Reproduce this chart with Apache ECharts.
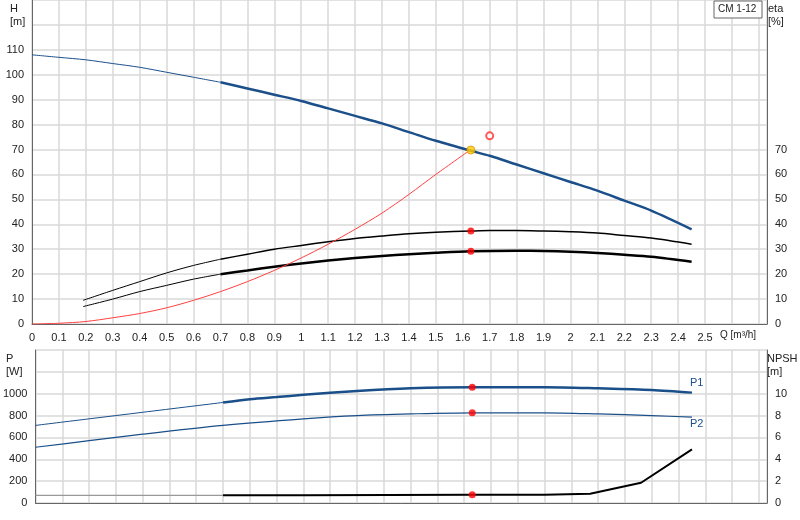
<!DOCTYPE html><html><head><meta charset="utf-8"><script src="https://cdn.jsdelivr.net/npm/echarts@6/dist/echarts.min.js"></script>
<style>body{margin:0}#c{width:800px;height:520px}</style></head><body><div id="c"></div><script>
const H = [[0,108],[0.1,107],[0.2,106],[0.3,104.5],[0.4,103],[0.5,101],[0.6,99],[0.7,97],[0.8,94.5],[0.9,92],[1.0,89.5],[1.1,86.5],[1.2,83.5],[1.3,80.5],[1.4,77],[1.5,73.5],[1.63,69.5],[1.7,67.5],[1.8,64],[1.9,60.5],[2.0,57],[2.1,53.5],[2.2,49.5],[2.3,45.5],[2.45,38]];
const eta1 = [[0.19,9.5],[0.3,13.5],[0.4,17],[0.5,20.5],[0.6,23.5],[0.7,26],[0.8,28],[0.9,30],[1.0,31.5],[1.1,33],[1.2,34.3],[1.3,35.3],[1.4,36.2],[1.5,36.8],[1.63,37.3],[1.7,37.5],[1.8,37.5],[1.9,37.3],[2.0,37],[2.1,36.5],[2.2,35.5],[2.3,34.5],[2.45,32]];
const eta2 = [[0.19,7],[0.3,10],[0.4,13],[0.5,15.5],[0.6,18],[0.7,20],[0.8,21.5],[0.9,23],[1.0,24.3],[1.1,25.5],[1.2,26.5],[1.3,27.3],[1.4,28],[1.5,28.6],[1.63,29.2],[1.8,29.4],[1.9,29.3],[2.0,29],[2.1,28.5],[2.2,27.8],[2.3,27],[2.45,25]];
const sys = [[0,0],[0.1,0.3],[0.2,1],[0.3,2.5],[0.4,4.2],[0.5,6.5],[0.6,9.5],[0.7,13],[0.8,17],[0.9,21.5],[1.0,26.5],[1.1,32],[1.2,38],[1.3,44.5],[1.4,52],[1.5,60],[1.63,70]];
const P1 = [[0,710],[0.2,770],[0.4,830],[0.7,920],[0.8,950],[0.9,970],[1.0,990],[1.2,1025],[1.4,1050],[1.63,1060],[1.9,1060],[2.1,1050],[2.3,1035],[2.45,1010]];
const P2 = [[0,510],[0.2,570],[0.4,630],[0.7,710],[1.0,770],[1.2,800],[1.4,815],[1.63,825],[1.9,825],[2.1,815],[2.3,800],[2.45,785]];
const NPSH = [[0,0.7],[0.7,0.7],[1.0,0.72],[1.63,0.75],[1.9,0.76],[2.07,0.85],[2.26,1.85],[2.45,4.9]];
const duty = [1.63,69.8], dutyEta=[[1.63,37.3],[1.63,29.2]], dutyP=[[1.63,1060],[1.63,825]], dutyN=[[1.63,0.75]], openPt=[[1.7,75.5]];
const split=(d,x,lo)=>d.filter(p=>lo?p[0]<=x:p[0]>=x);
const gridLine={show:true,lineStyle:{color:'#d8d8d8',width:1.5}};
const lbl={color:'#222',fontSize:11,fontFamily:'Arial'};
const ln=(x,y,d,c,w,z)=>({type:'line',xAxisIndex:x,yAxisIndex:y,data:d,showSymbol:false,smooth:0.3,lineStyle:{color:c,width:w},z:z||2,silent:true});
const dots=(x,y,d)=>({type:'scatter',xAxisIndex:x,yAxisIndex:y,data:d,symbolSize:7,itemStyle:{color:'#ff0000'},z:5});
const xa=(g,show)=>({type:'value',gridIndex:g,min:0,max:2.73,interval:0.1,axisLine:{show:true,lineStyle:{color:'#666'}},axisTick:{show:false},splitLine:gridLine,
 axisLabel:show?Object.assign({},lbl,{formatter:v=>v<=2.51?(+v.toFixed(1)).toString():''}):{show:false}});
const chart=echarts.init(document.getElementById('c'));
chart.setOption({animation:false,
 grid:[{left:32,right:33,top:0,bottom:196},{left:32,right:33,top:350,bottom:17}],
 xAxis:[xa(0,true),xa(1,false)],
 yAxis:[
  {type:'value',gridIndex:0,min:0,max:130,interval:10,axisLine:{show:true,lineStyle:{color:'#666'}},axisTick:{show:false},splitLine:gridLine,axisLabel:Object.assign({},lbl,{formatter:v=>v<=110?v:''})},
  {type:'value',gridIndex:0,min:0,max:130,interval:10,position:'right',axisLine:{show:true,lineStyle:{color:'#666'}},axisTick:{show:false},splitLine:{show:false},axisLabel:Object.assign({},lbl,{formatter:v=>v<=70?v:''})},
  {type:'value',gridIndex:1,min:0,max:1400,interval:200,axisLine:{show:true,lineStyle:{color:'#666'}},axisTick:{show:false},splitLine:gridLine,axisLabel:Object.assign({},lbl,{formatter:v=>v<=1000?v:''})},
  {type:'value',gridIndex:1,min:0,max:14,interval:2,position:'right',axisLine:{show:true,lineStyle:{color:'#666'}},axisTick:{show:false},splitLine:{show:false},axisLabel:Object.assign({},lbl,{formatter:v=>v<=10?v:''})}
 ],
 graphic:[
  {type:'text',left:10,top:2,style:{text:'H\n[m]',font:'11px Arial',fill:'#222',lineHeight:13}},
  {type:'text',left:768,top:2,style:{text:'eta\n[%]',font:'11px Arial',fill:'#222',lineHeight:13}},
  {type:'text',left:720,top:330,style:{text:'Q [m³/h]',font:'10px Arial',fill:'#222'}},
  {type:'text',left:6,top:352,style:{text:'P\n[W]',font:'11px Arial',fill:'#222',lineHeight:13}},
  {type:'text',left:767,top:352,style:{text:'NPSH\n[m]',font:'11px Arial',fill:'#222',lineHeight:13}},
  {type:'text',left:690,top:377,style:{text:'P1',font:'11px Arial',fill:'#1a4f8a'}},
  {type:'text',left:690,top:418,style:{text:'P2',font:'11px Arial',fill:'#1a4f8a'}},
  {type:'rect',shape:{x:714,y:1,width:48,height:17},style:{fill:'#fff',stroke:'#666',lineWidth:1},z:10},
  {type:'text',left:718,top:4,z:11,style:{text:'CM 1-12',font:'10px Arial',fill:'#222'}}
 ],
 series:[
  ln(0,0,split(H,0.7,true),'#1a4f8a',1),ln(0,0,split(H,0.7,false),'#1a4f8a',2.5),
  ln(0,1,split(eta1,0.7,true),'#000',1),ln(0,1,split(eta1,0.7,false),'#000',1.5),
  ln(0,1,split(eta2,0.7,true),'#000',1),ln(0,1,split(eta2,0.7,false),'#000',2.5),
  ln(0,0,sys,'#ff4040',1),
  {type:'scatter',xAxisIndex:0,yAxisIndex:0,data:[duty],symbolSize:8,itemStyle:{color:'#ffcc00',borderColor:'#e09000',borderWidth:1},z:6},
  {type:'scatter',xAxisIndex:0,yAxisIndex:0,data:openPt,symbol:'emptyCircle',symbolSize:7,itemStyle:{color:'#ff3030'},z:6},
  dots(0,1,dutyEta),
  ln(1,2,split(P1,0.7,true),'#1a4f8a',1),ln(1,2,split(P1,0.7,false),'#1a4f8a',2.5),
  ln(1,2,P2,'#1a4f8a',1.2),
  {type:'line',xAxisIndex:1,yAxisIndex:3,data:split(NPSH,0.7,true),showSymbol:false,lineStyle:{color:'#999',width:1.2}},
  {type:'line',xAxisIndex:1,yAxisIndex:3,data:split(NPSH,0.7,false),showSymbol:false,lineStyle:{color:'#000',width:2}},
  dots(1,2,dutyP),dots(1,3,dutyN)
 ]});
</script></body></html>
